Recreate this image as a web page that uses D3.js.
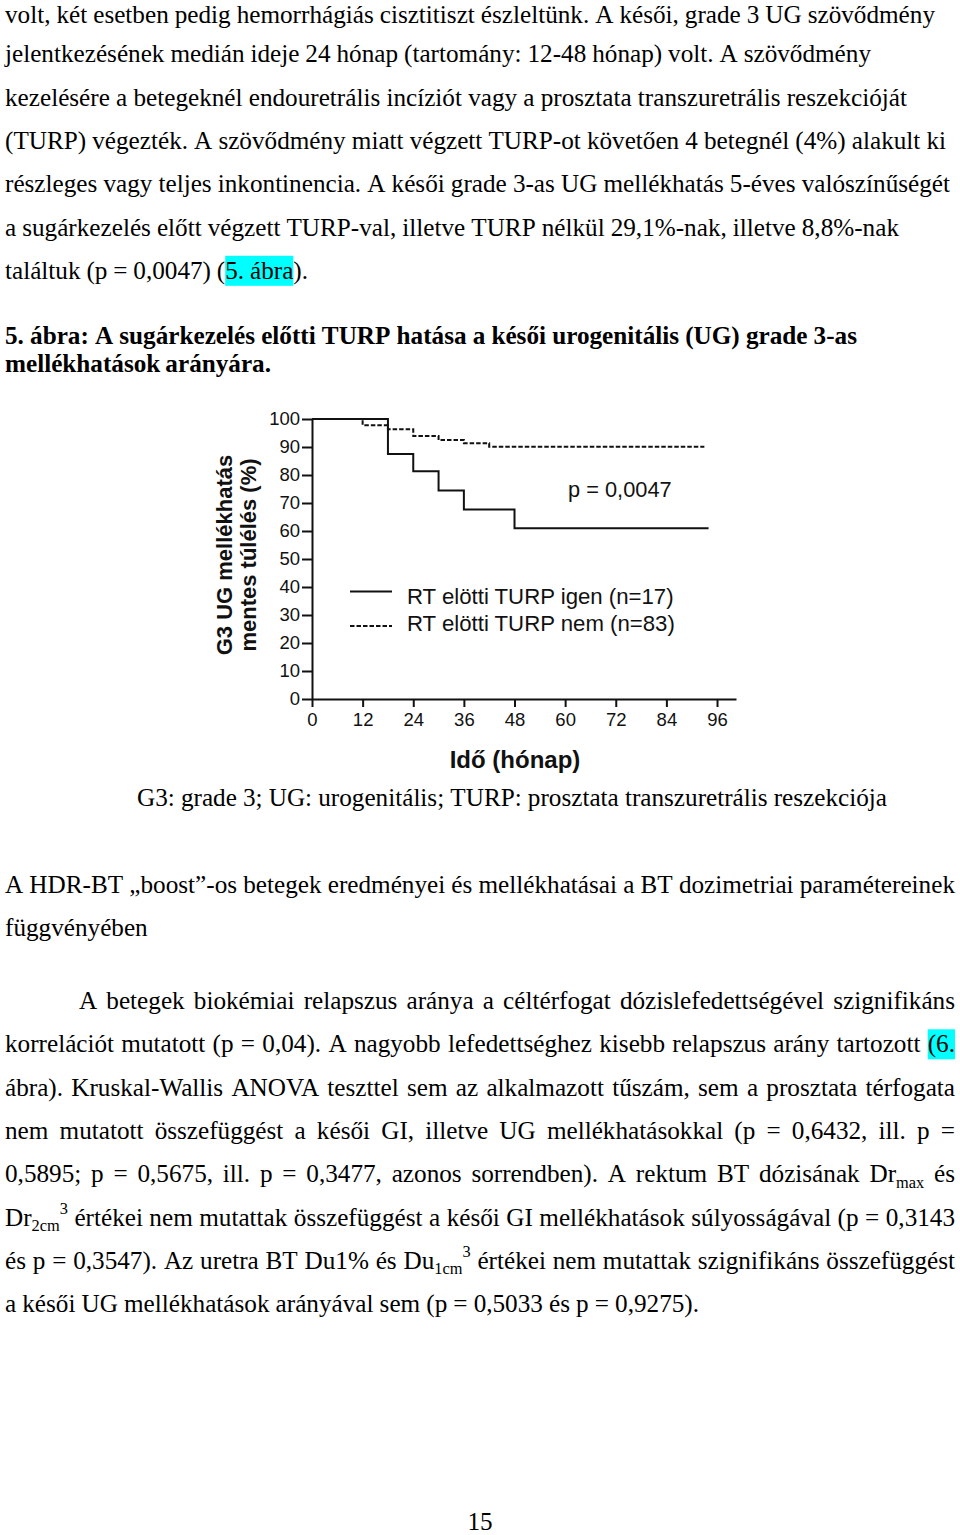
<!DOCTYPE html>
<html>
<head>
<meta charset="utf-8">
<script src="https://cdn.jsdelivr.net/npm/d3@7"></script>
<style>
  body { margin: 0; background: #fff; }
  svg { display: block; }
  .serif { font-family: "Liberation Serif", "Times New Roman", serif; fill: #000; }
  .sans { font-family: "Liberation Sans", Arial, sans-serif; fill: #111; }
</style>
</head>
<body>
<div id="page"></div>
<script>
// chart values
const monthTicks = [0, 12, 24, 36, 48, 60, 72, 84, 96]
const pctTicks = [0, 10, 20, 30, 40, 50, 60, 70, 80, 90, 100]
const turpYesMonths = [0, 18, 24, 30, 36, 48, 94]
const turpYesSurv = [100, 87.5, 81.3, 74.5, 67.7, 61.0, 61.0]
const turpNoMonths = [0, 12, 18, 24, 30, 36, 42, 93]
const turpNoSurv = [100, 97.8, 96.3, 93.9, 92.5, 91.3, 90.1, 90.1]
const seriesNames = ["RT elötti TURP igen (n=17)", "RT elötti TURP nem (n=83)"]
const pLabel = "p = 0,0047"
const xTitle = "Idő (hónap)"
const yTitle = ["G3 UG mellékhatás", "mentes túlélés (%)"]

// page text; [..] = highlighted, _{..} = subscript, ^{..} = superscript
const para1 = [
  "volt, két esetben pedig hemorrhágiás cisztitiszt észleltünk. A késői, grade 3 UG szövődmény",
  "jelentkezésének medián ideje 24 hónap (tartomány: 12-48 hónap) volt. A szövődmény",
  "kezelésére a betegeknél endouretrális incíziót vagy a prosztata transzuretrális reszekcióját",
  "(TURP) végezték. A szövődmény miatt végzett TURP-ot követően 4 betegnél (4%) alakult ki",
  "részleges vagy teljes inkontinencia. A késői grade 3-as UG mellékhatás 5-éves valószínűségét",
  "a sugárkezelés előtt végzett TURP-val, illetve TURP nélkül 29,1%-nak, illetve 8,8%-nak",
  "találtuk (p = 0,0047) ([5. ábra])."
]
const para1Ends = [935, 871, 907, 946, 950, 899, 308]
const figCaption = [
  "5. ábra: A sugárkezelés előtti TURP hatása a késői urogenitális (UG) grade 3-as",
  "mellékhatások arányára."
]
const figCaptionEnds = [857, 271]
const figNote = "G3: grade 3; UG: urogenitális; TURP: prosztata transzuretrális reszekciója"
const heading = [
  "A HDR-BT „boost”-os betegek eredményei és mellékhatásai a BT dozimetriai paramétereinek",
  "függvényében"
]
const para2 = [
  "A betegek biokémiai relapszus aránya a céltérfogat dózislefedettségével szignifikáns",
  "korrelációt mutatott (p = 0,04). A nagyobb lefedettséghez kisebb relapszus arány tartozott [(6.",
  "ábra)]. Kruskal-Wallis ANOVA teszttel sem az alkalmazott tűszám, sem a prosztata térfogata",
  "nem mutatott összefüggést a késői GI, illetve UG mellékhatásokkal (p = 0,6432, ill. p =",
  "0,5895; p = 0,5675, ill. p = 0,3477, azonos sorrendben). A rektum BT dózisának Dr_{max} és",
  "Dr_{2cm}^{3} értékei nem mutattak összefüggést a késői GI mellékhatások súlyosságával (p = 0,3143",
  "és p = 0,3547). Az uretra BT Du1% és Du_{1cm}^{3} értékei nem mutattak szignifikáns összefüggést",
  "a késői UG mellékhatások arányával sem (p = 0,5033 és p = 0,9275)."
]
const para2Ends = [955, 955, 955, 955, 955, 955, 955, 699]
const pageNo = "15"

const W = 960, H = 1535
const LINE = 43.3
const FS = 25.2      // body font size

const svg = d3.select("#page").append("svg")
  .attr("width", W)
  .attr("height", H)

function parse(s) {
  let words = [], cur = [], buf = "", hl = false, mode = null
  const flush = () => { if (buf) { cur.push({ t: buf, hl: hl, mode: mode }); buf = "" } }
  for (let i = 0; i < s.length; i++) {
    const c = s[i]
    if (c === "[") { flush(); hl = true }
    else if (c === "]") { flush(); hl = false }
    else if ((c === "_" || c === "^") && s[i + 1] === "{") { flush(); mode = c === "_" ? "sub" : "sup"; i++ }
    else if (c === "}" && mode) { flush(); mode = null }
    else if (c === " ") { flush(); if (cur.length) words.push(cur); cur = [] }
    else buf += c
  }
  flush()
  if (cur.length) words.push(cur)
  return words
}

// lays one line of words between x0 and x1 (justified), baseline y
function drawLine(str, x0, x1, y, bold) {
  const words = parse(str)
  const lg = svg.append("g").attr("class", "line")
  const hlg = lg.append("g")
  const placed = words.map(w => {
    const wg = lg.append("g")
    let cx = 0
    w.forEach(p => {
      const fs = p.mode ? FS * 0.65 : FS
      const dy = p.mode === "sub" ? FS * 0.22 : p.mode === "sup" ? -FS * 0.45 : 0
      const t = wg.append("text")
        .attr("class", "serif")
        .attr("x", cx)
        .attr("y", dy)
        .style("font-size", fs + "px")
        .style("font-weight", bold ? "bold" : "normal")
        .text(p.t)
      p.x = cx
      p.w = t.node().getComputedTextLength()
      cx += p.w
    })
    return { g: wg, w: cx, pieces: w }
  })
  const total = d3.sum(placed, d => d.w)
  const gaps = placed.length - 1
  const space = gaps > 0 && x1 != null ? (x1 - x0 - total) / gaps : FS * 0.25
  let cx = x0
  let hx0 = null, hx1 = null
  placed.forEach(d => {
    d.g.attr("transform", `translate(${cx},${y})`)
    d.pieces.forEach(p => {
      if (p.hl) {
        if (hx0 === null) hx0 = cx + p.x
        hx1 = cx + p.x + p.w
      }
    })
    cx += d.w + space
  })
  if (hx0 !== null) {
    hlg.append("rect")
      .attr("x", hx0)
      .attr("y", y - 23)
      .attr("width", hx1 - hx0)
      .attr("height", 30)
      .attr("fill", "#00ffff")
  }
}

// first line sits a few px lower so its accents stay on the page
para1.forEach((s, i) => drawLine(s, 5, para1Ends[i], i === 0 ? 23 : 19 + i * LINE, false))
figCaption.forEach((s, i) => drawLine(s, 5, figCaptionEnds[i], 344 + i * 28, true))
drawLine(figNote, 137, 887, 806, false)
drawLine(heading[0], 5, 955, 893, false)
drawLine(heading[1], 5, null, 936, false)
para2.forEach((s, i) => drawLine(s, i === 0 ? 79 : 5, para2Ends[i], 1009 + i * LINE, false))

svg.append("text")
  .attr("class", "serif")
  .attr("x", 480)
  .attr("y", 1530)
  .attr("text-anchor", "middle")
  .style("font-size", FS + "px")
  .text(pageNo)

// ---- Kaplan-Meier chart ----
const x = d3.scaleLinear().domain([0, 100.5]).range([312, 736])
const y = d3.scaleLinear().domain([0, 100]).range([699, 419])

const chart = svg.append("g").attr("class", "km")

const xAxis = chart.append("g")
  .attr("transform", `translate(0,${y(0)})`)
  .call(d3.axisBottom(x).tickValues(monthTicks).tickSize(8).tickSizeOuter(0).tickPadding(6))
const yAxis = chart.append("g")
  .attr("transform", `translate(${x(0)},0)`)
  .call(d3.axisLeft(y).tickValues(pctTicks).tickSize(10).tickSizeOuter(0).tickPadding(2))

;[xAxis, yAxis].forEach(a => {
  a.selectAll(".domain").attr("stroke", "#111").attr("stroke-width", 2)
  a.selectAll(".tick line").attr("stroke", "#111").attr("stroke-width", 2)
  a.selectAll(".tick text")
    .attr("class", "sans")
    .style("font-size", "18.5px")
    .attr("fill", "#111")
})

const series = [
  { name: seriesNames[0], months: turpYesMonths, surv: turpYesSurv, dash: null },
  { name: seriesNames[1], months: turpNoMonths, surv: turpNoSurv, dash: "4.5,2" }
]

const step = d3.line()
  .x(d => x(d[0]))
  .y(d => y(d[1]))
  .curve(d3.curveStepAfter)

// dashed first so the solid one sits on top where they overlap
series.slice().reverse().forEach(s => {
  chart.append("path")
    .datum(d3.zip(s.months, s.surv))
    .attr("d", step)
    .attr("fill", "none")
    .attr("stroke", "#111")
    .attr("stroke-width", 2)
    .attr("stroke-dasharray", s.dash)
})

// legend
const legendY = [591.5, 626]
const legendTextY = [604, 631]
series.forEach((s, i) => {
  chart.append("line")
    .attr("x1", 350).attr("x2", 392)
    .attr("y1", legendY[i]).attr("y2", legendY[i])
    .attr("stroke", "#111")
    .attr("stroke-width", 2)
    .attr("stroke-dasharray", s.dash)
  chart.append("text")
    .attr("class", "sans")
    .attr("x", 407)
    .attr("y", legendTextY[i])
    .style("font-size", "22.2px")
    .text(s.name)
})

chart.append("text")
  .attr("class", "sans")
  .attr("x", 568)
  .attr("y", 497)
  .style("font-size", "21.8px")
  .text(pLabel)

chart.append("text")
  .attr("class", "sans")
  .attr("x", 515)
  .attr("y", 768)
  .attr("text-anchor", "middle")
  .style("font-size", "24px")
  .style("font-weight", "bold")
  .text(xTitle)

const yTitleX = [232, 256]
yTitle.forEach((t, i) => {
  chart.append("text")
    .attr("class", "sans")
    .attr("transform", `translate(${yTitleX[i]},555) rotate(-90)`)
    .attr("text-anchor", "middle")
    .style("font-size", "22px")
    .style("font-weight", "bold")
    .text(t)
})
</script>
</body>
</html>
